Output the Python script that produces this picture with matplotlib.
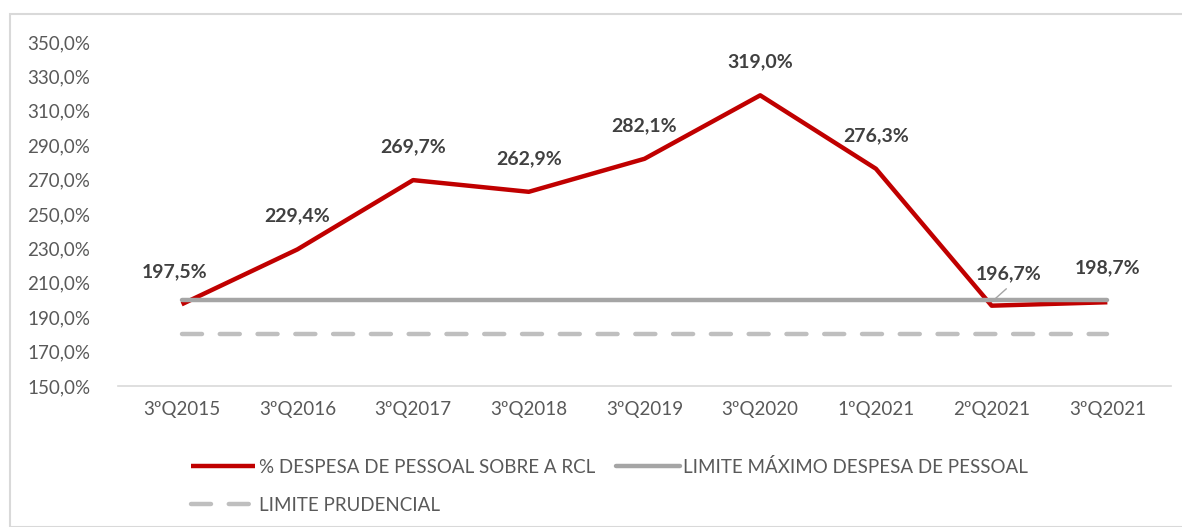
import numpy as np
import matplotlib.pyplot as plt
from matplotlib.patches import Rectangle

plt.rcParams['font.family'] = ['Lato', 'DejaVu Sans']

trimestres = ['3ºQ2015', '3ºQ2016', '3ºQ2017', '3ºQ2018', '3ºQ2019',
              '3ºQ2020', '1ºQ2021', '2ºQ2021', '3ºQ2021']
despesa = [197.5, 229.4, 269.7, 262.9, 282.1, 319.0, 276.3, 196.7, 198.7]
limite_maximo = [200.0] * 9
limite_prudencial = [180.0] * 9

x = np.arange(len(trimestres))

fig = plt.figure(figsize=(11.82, 5.27), dpi=100)
fig.patches.append(Rectangle((10 / 1182, 0), 1, 1 - 14 / 527, transform=fig.transFigure,
                             fill=False, edgecolor='#D9D9D9', linewidth=1.5))
ax = fig.add_axes([118 / 1182, 1 - 386 / 527, 1053 / 1182, 344 / 527])

l1, = ax.plot(x, despesa, color='#C00000', linewidth=3.2, solid_capstyle='butt',
              label='% DESPESA DE PESSOAL SOBRE A RCL', zorder=3)
l2, = ax.plot(x, limite_maximo, color='#A5A5A5', linewidth=3.2, solid_capstyle='round',
              label='LIMITE MÁXIMO DESPESA DE PESSOAL', zorder=4)
l3, = ax.plot(x, limite_prudencial, color='#BFBFBF', linewidth=3.2, dashes=(4.5, 4.0),
              dash_capstyle='round', label='LIMITE PRUDENCIAL', zorder=2)

# rótulos de valor
offsets = [(-5, 17), (0, 18), (0, 18), (0, 18), (0, 18), (0, 18), (0, 18), (12, 17), (0, 19)]
for xi, v, (dx, dy) in zip(x, despesa, offsets):
    txt = f'{v:.1f}%'.replace('.', ',')
    ax.annotate(txt, (xi, v), xytext=(dx, dy), textcoords='offset points',
                ha='center', va='bottom', fontsize=14, fontweight='bold',
                color='#404040', zorder=5)
# linha guia do rótulo de 2ºQ2021
ax.annotate('', xy=(x[7] - 0.01, 198.3), xytext=(x[7] + 0.145, 207.6),
            arrowprops=dict(arrowstyle='-', color='#A5A5A5', lw=1), zorder=5)

ax.set_ylim(150, 350)
ax.set_yticks(np.arange(150, 351, 20))
ax.yaxis.set_major_formatter(plt.FuncFormatter(lambda v, p: f'{v:.1f}%'.replace('.', ',')))
ax.set_xlim(-0.55, len(trimestres) - 0.45)
ax.set_xticks(x)
ax.set_xticklabels(trimestres)
ax.tick_params(axis='both', length=0, labelsize=13.5, labelcolor='#595959')
ax.tick_params(axis='x', pad=11)
ax.tick_params(axis='y', pad=20)
for s in ['top', 'right', 'left']:
    ax.spines[s].set_visible(False)
ax.spines['bottom'].set_color('#D9D9D9')
ax.spines['bottom'].set_linewidth(1.2)

# legenda preenchida por coluna: vermelho e prudencial na primeira
leg = ax.legend([l1, l3, l2], [l1.get_label(), l3.get_label(), l2.get_label()],
                loc='upper center', bbox_to_anchor=(0.467, -0.16), ncol=2, frameon=False,
                fontsize=13.5, handlelength=3.4, handletextpad=0.2, columnspacing=1.1,
                labelspacing=1.1)
for t in leg.get_texts():
    t.set_color('#595959')

fig.savefig('out.png', dpi=100)
